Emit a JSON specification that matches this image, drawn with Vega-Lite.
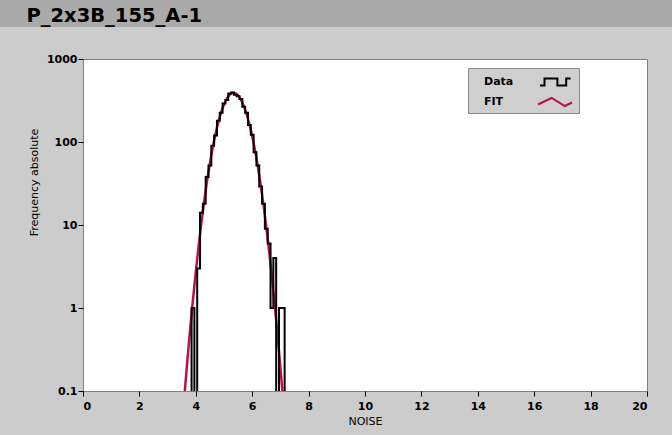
{
  "$schema": "https://vega.github.io/schema/vega-lite/v6.json",
  "background": "#cccccc",
  "padding": 0,
  "spacing": 25,
  "datasets": {
    "hist": [
      {"series": "Data", "noise": 3.75, "freq": 0.01},
      {"series": "Data", "noise": 3.85, "freq": 1},
      {"series": "Data", "noise": 3.95, "freq": 0.01},
      {"series": "Data", "noise": 4.05, "freq": 3},
      {"series": "Data", "noise": 4.15, "freq": 14},
      {"series": "Data", "noise": 4.25, "freq": 18},
      {"series": "Data", "noise": 4.35, "freq": 38},
      {"series": "Data", "noise": 4.45, "freq": 52},
      {"series": "Data", "noise": 4.55, "freq": 90},
      {"series": "Data", "noise": 4.65, "freq": 120},
      {"series": "Data", "noise": 4.75, "freq": 180},
      {"series": "Data", "noise": 4.85, "freq": 225},
      {"series": "Data", "noise": 4.95, "freq": 290},
      {"series": "Data", "noise": 5.05, "freq": 320},
      {"series": "Data", "noise": 5.15, "freq": 385},
      {"series": "Data", "noise": 5.25, "freq": 395},
      {"series": "Data", "noise": 5.35, "freq": 370},
      {"series": "Data", "noise": 5.45, "freq": 355},
      {"series": "Data", "noise": 5.55, "freq": 330},
      {"series": "Data", "noise": 5.65, "freq": 265},
      {"series": "Data", "noise": 5.75, "freq": 225},
      {"series": "Data", "noise": 5.85, "freq": 160},
      {"series": "Data", "noise": 5.95, "freq": 122},
      {"series": "Data", "noise": 6.05, "freq": 75},
      {"series": "Data", "noise": 6.15, "freq": 52},
      {"series": "Data", "noise": 6.25, "freq": 29},
      {"series": "Data", "noise": 6.35, "freq": 18},
      {"series": "Data", "noise": 6.45, "freq": 9},
      {"series": "Data", "noise": 6.55, "freq": 6},
      {"series": "Data", "noise": 6.65, "freq": 1},
      {"series": "Data", "noise": 6.75, "freq": 4},
      {"series": "Data", "noise": 6.85, "freq": 0.01},
      {"series": "Data", "noise": 6.95, "freq": 1},
      {"series": "Data", "noise": 7.05, "freq": 1},
      {"series": "Data", "noise": 7.15, "freq": 0.01},
      {"series": "Data", "noise": 7.25, "freq": 0.01}
    ],
    "fit": [
      {"series": "FIT", "noise": 3.6, "freq": 0.091},
      {"series": "FIT", "noise": 3.7, "freq": 0.231},
      {"series": "FIT", "noise": 3.8, "freq": 0.557},
      {"series": "FIT", "noise": 3.9, "freq": 1.27},
      {"series": "FIT", "noise": 4.0, "freq": 2.73},
      {"series": "FIT", "noise": 4.1, "freq": 5.58},
      {"series": "FIT", "noise": 4.2, "freq": 10.8},
      {"series": "FIT", "noise": 4.3, "freq": 19.6},
      {"series": "FIT", "noise": 4.4, "freq": 34.0},
      {"series": "FIT", "noise": 4.5, "freq": 55.5},
      {"series": "FIT", "noise": 4.6, "freq": 85.9},
      {"series": "FIT", "noise": 4.7, "freq": 125.8},
      {"series": "FIT", "noise": 4.8, "freq": 174.3},
      {"series": "FIT", "noise": 4.9, "freq": 228.5},
      {"series": "FIT", "noise": 5.0, "freq": 283.4},
      {"series": "FIT", "noise": 5.1, "freq": 332.6},
      {"series": "FIT", "noise": 5.2, "freq": 369.4},
      {"series": "FIT", "noise": 5.3, "freq": 388.3},
      {"series": "FIT", "noise": 5.4, "freq": 386.1},
      {"series": "FIT", "noise": 5.5, "freq": 363.4},
      {"series": "FIT", "noise": 5.6, "freq": 323.6},
      {"series": "FIT", "noise": 5.7, "freq": 272.6},
      {"series": "FIT", "noise": 5.8, "freq": 217.4},
      {"series": "FIT", "noise": 5.9, "freq": 164.0},
      {"series": "FIT", "noise": 6.0, "freq": 117.1},
      {"series": "FIT", "noise": 6.1, "freq": 79.1},
      {"series": "FIT", "noise": 6.2, "freq": 50.5},
      {"series": "FIT", "noise": 6.3, "freq": 30.6},
      {"series": "FIT", "noise": 6.4, "freq": 17.5},
      {"series": "FIT", "noise": 6.5, "freq": 9.48},
      {"series": "FIT", "noise": 6.6, "freq": 4.86},
      {"series": "FIT", "noise": 6.7, "freq": 2.36},
      {"series": "FIT", "noise": 6.8, "freq": 1.08},
      {"series": "FIT", "noise": 6.9, "freq": 0.469},
      {"series": "FIT", "noise": 7.0, "freq": 0.193},
      {"series": "FIT", "noise": 7.1, "freq": 0.075}
    ]
  },
  "config": {
    "axis": {
      "labelFont": "DejaVu Sans",
      "labelFontWeight": "bold",
      "labelFontSize": 11,
      "labelColor": "#000000",
      "titleFont": "DejaVu Sans",
      "titleFontWeight": "normal",
      "titleFontSize": 11,
      "titleColor": "#000000",
      "tickColor": "#000000",
      "tickSize": 5,
      "domain": false,
      "grid": false,
      "labelPadding": 2
    }
  },
  "vconcat": [
    {
      "width": 672,
      "height": 27,
      "view": {"fill": "#aaaaaa", "stroke": null},
      "data": {"values": []},
      "mark": "point",
      "encoding": {
        "x": {
          "field": "band",
          "type": "quantitative",
          "scale": {"domain": [0, 1]},
          "axis": {
            "orient": "top",
            "title": "P_2x3B_155_A-1",
            "titleX": 26,
            "titleY": 21,
            "titleAlign": "left",
            "titleAnchor": null,
            "titleBaseline": "alphabetic",
            "titleFont": "DejaVu Sans",
            "titleFontSize": 19.5,
            "titleFontWeight": "bold",
            "titleColor": "#000000",
            "labels": false,
            "ticks": false,
            "domain": false,
            "grid": false
          }
        }
      }
    },
    {
      "spacing": 0,
      "hconcat": [
        {
          "width": 27,
          "height": 376,
          "view": {"fill": null, "stroke": null},
          "data": {"values": []},
          "mark": "point",
          "encoding": {}
        },
        {
          "width": 564,
          "height": 332,
          "view": {"fill": "#ffffff", "stroke": "#808080"},
          "encoding": {
            "x": {
              "field": "noise",
              "type": "quantitative",
              "scale": {"domain": [0, 20], "nice": false, "zero": false},
              "axis": {"values": [0, 2, 4, 6, 8, 10, 12, 14, 16, 18, 20], "title": "NOISE", "titlePadding": 4, "labelPadding": 4}
            },
            "y": {
              "field": "freq",
              "type": "quantitative",
              "scale": {"type": "log", "domain": [0.1, 1000], "nice": false},
              "axis": {
                "values": [0.1, 1, 10, 100, 1000],
                "format": "~g",
                "title": "Frequency absolute",
                "titleX": -44,
                "titleY": 123,
                "titleBaseline": "bottom",
                "labelPadding": 1
              }
            },
            "color": {
              "field": "series",
              "type": "nominal",
              "scale": {"domain": ["Data", "FIT"], "range": ["#000000", "#bc1048"]},
              "legend": {
                "orient": "none",
                "legendX": 468,
                "legendY": 68,
                "title": null,
                "fillColor": "#cfcfcf",
                "strokeColor": "#8a8a8a",
                "padding": 3,
                "labelFont": "DejaVu Sans",
                "labelFontWeight": "bold",
                "labelFontSize": 11,
                "labelColor": "#000000",
                "symbolSize": 400,
                "symbolStrokeWidth": 2,
                "symbolOffset": 73,
                "labelOffset": -82,
                "rowPadding": 1,
                "encode": {
                  "symbols": {
                    "update": {
                      "shape": {"signal": "datum.value === 'Data' ? 'M-1.5,0.35L-1.05,0.35L-1.05,-0.35L0.24,-0.35L0.24,0.35L1.12,0.35L1.12,-0.35L1.57,-0.35' : 'M-1.7,0.25L-0.34,-0.4L0.99,0.4L1.7,0.05'"},
                      "fill": {"value": "transparent"}
                    }
                  }
                }
              }
            }
          },
          "layer": [
            {
              "data": {"name": "fit"},
              "mark": {"type": "line", "interpolate": "monotone", "clip": true, "strokeWidth": 2.5}
            },
            {
              "data": {"name": "hist"},
              "mark": {"type": "line", "interpolate": "step-after", "clip": true, "strokeWidth": 2, "strokeJoin": "miter"}
            }
          ]
        }
      ]
    }
  ]
}
